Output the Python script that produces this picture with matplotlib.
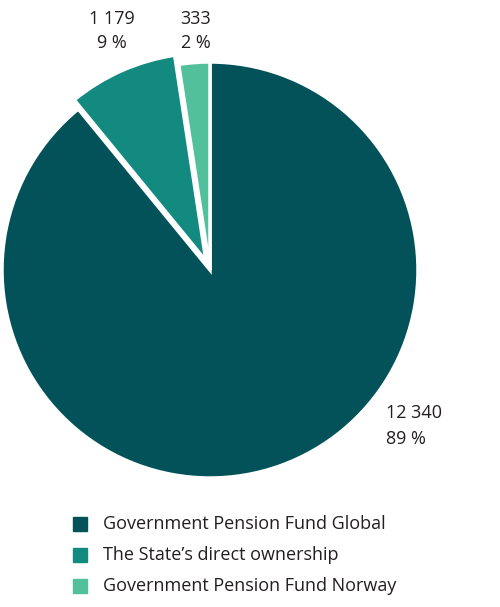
import matplotlib
matplotlib.use("Agg")
import matplotlib.pyplot as plt
from matplotlib.patches import Rectangle

categories = ["Government Pension Fund Global", "The State\u2019s direct ownership", "Government Pension Fund Norway"]
values = [12340, 1179, 333]
pct_labels = ["89 %", "9 %", "2 %"]
value_labels = ["12 340", "1 179", "333"]
colors = ["#03525a", "#138a80", "#52c09a"]

fig = plt.figure(figsize=(5, 6.07), dpi=100)
ax = fig.add_axes([0, 0, 1, 1])
ax.set_xlim(0, 500)
ax.set_ylim(0, 607)
ax.set_aspect("equal")
ax.axis("off")

# explode offset is in data units (pixels here)
ax.pie(values, colors=colors, startangle=90, counterclock=False,
       center=(210, 337), radius=208, explode=[0, 10, 0],
       wedgeprops=dict(edgecolor="white", linewidth=2.5))
ax.set_xlim(0, 500)
ax.set_ylim(0, 607)

fs = 13
pos = [(386, 181, "left"), (112, 576, "center"), (196, 576, "center")]
for (x, y, ha), v, p in zip(pos, value_labels, pct_labels):
    ax.text(x, y, v + "\n" + p, ha=ha, va="center", fontsize=fs, color="#231f20",
            linespacing=1.5, family="Open Sans")

for i, (c, lab) in enumerate(zip(colors, categories)):
    y = 607 - (524 + i * 31)
    ax.add_patch(Rectangle((73, y - 7), 14, 14, color=c))
    ax.text(103, y, lab, va="center", ha="left", fontsize=fs, color="#231f20", family="Open Sans")

fig.savefig("out.png", dpi=100)
